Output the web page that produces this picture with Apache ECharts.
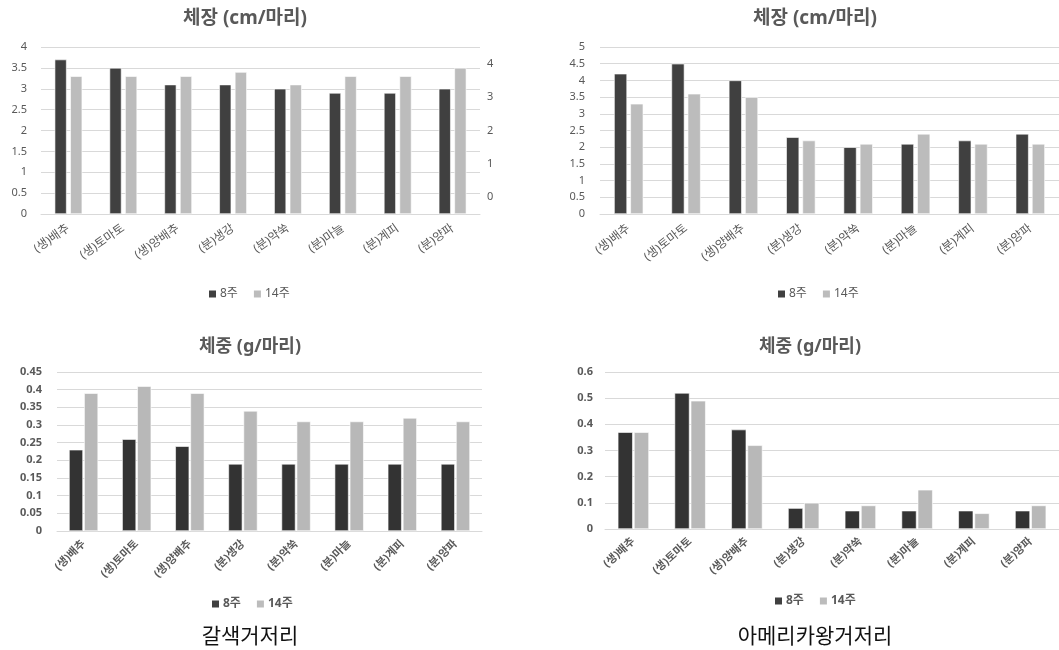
<!DOCTYPE html>
<html>
<head>
<meta charset="utf-8">
<script src="https://cdn.jsdelivr.net/npm/echarts@6/dist/echarts.min.js"></script>
<style>
  html, body { margin: 0; padding: 0; background: #fff; }
  #chart { width: 1059px; height: 650px; }
</style>
</head>
<body>
<div id="chart"></div>
<script>
// 사육 먹이별 8주/14주 체장·체중
const categories = ['(생)배추', '(생)토마토', '(생)양배추', '(분)생강', '(분)약쑥', '(분)마늘', '(분)계피', '(분)양파'];
const seriesNames = ['8주', '14주'];

// 갈색거저리
const brownLength8 = [3.7, 3.5, 3.1, 3.1, 3.0, 2.9, 2.9, 3.0];
const brownLength14 = [3.3, 3.3, 3.3, 3.4, 3.1, 3.3, 3.3, 3.5];
const brownWeight8 = [0.23, 0.26, 0.24, 0.19, 0.19, 0.19, 0.19, 0.19];
const brownWeight14 = [0.39, 0.41, 0.39, 0.34, 0.31, 0.31, 0.32, 0.31];

// 아메리카왕거저리
const amerLength8 = [4.2, 4.5, 4.0, 2.3, 2.0, 2.1, 2.2, 2.4];
const amerLength14 = [3.3, 3.6, 3.5, 2.2, 2.1, 2.4, 2.1, 2.1];
const amerWeight8 = [0.37, 0.52, 0.38, 0.08, 0.07, 0.07, 0.07, 0.07];
const amerWeight14 = [0.37, 0.49, 0.32, 0.10, 0.09, 0.15, 0.06, 0.09];

const panelTitles = ['체장 (cm/마리)', '체장 (cm/마리)', '체중 (g/마리)', '체중 (g/마리)'];
const speciesNames = ['갈색거저리', '아메리카왕거저리'];

const FONT = '"Noto Sans", "Noto Sans CJK KR", sans-serif';
const TEXT = '#595959';
const DARK_TOP = '#404040', LIGHT_TOP = '#bcbcbc';
const DARK_BOT = '#333333', LIGHT_BOT = '#b8b8b8';

const grids = [
  { left: 41, right: 579, top: 47, bottom: 436 },
  { left: 600, right: 0, top: 47, bottom: 436 },
  { left: 57, right: 577, top: 372, bottom: 119 },
  { left: 605, right: 0, top: 372, bottom: 121 }
];

function xAxis(gridIndex, bold, rotate, margin, size) {
  return {
    type: 'category', gridIndex, data: categories,
    axisTick: { show: false },
    axisLine: { lineStyle: { color: '#d9d9d9', width: 1 } },
    axisLabel: { rotate, margin, color: TEXT, fontSize: size, fontFamily: FONT, fontWeight: bold ? 'bold' : 'normal', interval: 0 }
  };
}
function yAxis(gridIndex, max, interval, margin, bold) {
  return {
    type: 'value', gridIndex, min: 0, max, interval,
    axisLine: { show: false }, axisTick: { show: false },
    splitLine: { lineStyle: { color: '#d9d9d9', width: 1 } },
    axisLabel: { margin, color: TEXT, fontSize: 11, fontFamily: FONT, fontWeight: bold ? 'bold' : 'normal' }
  };
}
function bars(name, data, idx, color, width, gap) {
  return {
    type: 'bar', name, data, xAxisIndex: idx, yAxisIndex: idx,
    barWidth: width, barGap: gap,
    itemStyle: { color, borderColor: '#ffffff', borderWidth: 0.6 },
    emphasis: { disabled: true }
  };
}
function legend(left, top, bold) {
  return {
    left, top, data: seriesNames, itemWidth: 9, itemHeight: 9, itemGap: 14,
    icon: 'rect', selectedMode: false,
    textStyle: { color: TEXT, fontSize: 12, fontFamily: FONT, fontWeight: bold ? 'bold' : 'normal', padding: [0, 0, 0, -2] }
  };
}
function titleText(x, y, text, size) {
  return {
    type: 'text', x, y, silent: true,
    style: { text, fill: TEXT, font: 'bold ' + size + 'px ' + FONT, align: 'center', verticalAlign: 'middle' }
  };
}
function caption(x, y, text) {
  return {
    type: 'text', x, y, silent: true,
    style: { text, fill: '#111111', font: '21px "Noto Sans CJK KR", sans-serif', align: 'center', verticalAlign: 'middle' }
  };
}

const chart = echarts.init(document.getElementById('chart'), null, { renderer: 'canvas' });
chart.setOption({
  animation: false,
  backgroundColor: '#ffffff',
  textStyle: { fontFamily: FONT },
  grid: grids,
  xAxis: [
    xAxis(0, false, 35, 13, 12),
    xAxis(1, false, 38, 13, 12),
    xAxis(2, true, 45, 11, 11),
    xAxis(3, true, 42, 11, 11)
  ],
  yAxis: [
    yAxis(0, 4, 0.5, 14, false),
    yAxis(1, 5, 0.5, 15, false),
    yAxis(2, 0.45, 0.05, 15, true),
    yAxis(3, 0.6, 0.1, 12, true),
    // 보조 축 (오른쪽 0~4)
    {
      type: 'value', gridIndex: 0, position: 'right', min: -0.5, max: 4.5, interval: 0.5,
      axisLine: { show: false }, axisTick: { show: false }, splitLine: { show: false },
      axisLabel: {
        margin: 7, color: TEXT, fontSize: 11, fontFamily: FONT,
        formatter: v => (v >= 0 && Math.abs(v - Math.round(v)) < 1e-6) ? String(Math.round(v)) : ''
      }
    }
  ],
  legend: [legend(202, 283, false), legend(771, 283, false), legend(205, 593, true), legend(768, 590, true)],
  series: [
    bars('8주', brownLength8, 0, DARK_TOP, 12, '30%'),
    bars('14주', brownLength14, 0, LIGHT_TOP, 12, '30%'),
    bars('8주', amerLength8, 1, DARK_TOP, 13, '25%'),
    bars('14주', amerLength14, 1, LIGHT_TOP, 13, '25%'),
    bars('8주', brownWeight8, 2, DARK_BOT, 14, '8%'),
    bars('14주', brownWeight14, 2, LIGHT_BOT, 14, '8%'),
    bars('8주', amerWeight8, 3, DARK_BOT, 15, '8%'),
    bars('14주', amerWeight14, 3, LIGHT_BOT, 15, '8%')
  ],
  graphic: [
    titleText(245, 19, panelTitles[0], 19),
    titleText(815, 19, panelTitles[1], 19),
    titleText(250, 347, panelTitles[2], 18),
    titleText(810, 347, panelTitles[3], 18),
    caption(250, 635, speciesNames[0]),
    caption(815, 635, speciesNames[1])
  ]
});
</script>
</body>
</html>
